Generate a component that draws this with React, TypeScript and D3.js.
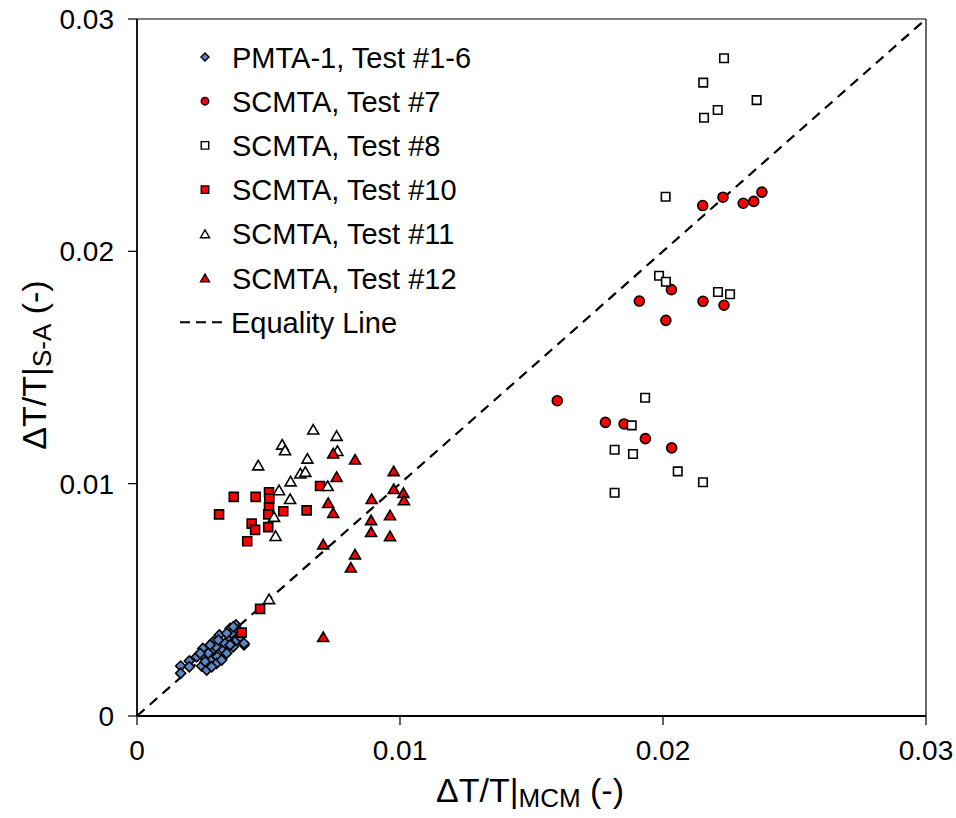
import React from "react";
import * as d3 from "d3";

const xTicks = [0, 0.01, 0.02, 0.03];
const yTicks = [0, 0.01, 0.02, 0.03];
const xTickLabels = ["0", "0.01", "0.02", "0.03"];
const yTickLabels = ["0", "0.01", "0.02", "0.03"];

const pmta: [number, number][] = [
  [0.00166, 0.00215], [0.00166, 0.00184], [0.00199, 0.00237], [0.00199, 0.00212],
  [0.00227, 0.00255], [0.0025, 0.00291], [0.00255, 0.00255], [0.00246, 0.00215],
  [0.00265, 0.00198], [0.00278, 0.00241], [0.00288, 0.00284], [0.0029, 0.0032],
  [0.00305, 0.00255], [0.00313, 0.00349], [0.00318, 0.00306], [0.00328, 0.00284],
  [0.00347, 0.00327], [0.00354, 0.00377], [0.0036, 0.00356], [0.00366, 0.00298],
  [0.00376, 0.00392], [0.00379, 0.00327], [0.00392, 0.00341], [0.00407, 0.00306],
  [0.00271, 0.0027], [0.003, 0.00298], [0.00335, 0.00313], [0.00341, 0.00356],
  [0.00303, 0.00227], [0.00322, 0.00241], [0.00259, 0.00234], [0.00284, 0.00212],
  [0.00341, 0.0027], [0.00354, 0.00306], [0.00385, 0.0037], [0.00366, 0.00384],
  [0.00309, 0.00327], [0.00278, 0.00306], [0.0024, 0.0027], [0.00407, 0.00313],
];

const test7: [number, number][] = [
  [0.02151, 0.02197], [0.02228, 0.02233], [0.02305, 0.02207], [0.02345, 0.02215],
  [0.02376, 0.02255], [0.02032, 0.01835], [0.0191, 0.01786], [0.02011, 0.01703],
  [0.02152, 0.01785], [0.02232, 0.01768], [0.01598, 0.01357], [0.01781, 0.01264],
  [0.01852, 0.01257], [0.01933, 0.01194], [0.02033, 0.01154],
];

const test8: [number, number][] = [
  [0.02232, 0.02831], [0.02153, 0.02726], [0.02356, 0.02651], [0.02208, 0.02608],
  [0.02156, 0.02575], [0.0201, 0.02235], [0.01985, 0.01895], [0.02011, 0.01869],
  [0.02209, 0.01825], [0.02255, 0.01815], [0.01932, 0.0137], [0.01881, 0.01251],
  [0.01816, 0.01146], [0.01886, 0.01128], [0.02056, 0.01053], [0.02152, 0.01006],
  [0.01816, 0.00961],
];

const test10: [number, number][] = [
  [0.00368, 0.00943], [0.00451, 0.00943], [0.00502, 0.00963], [0.00503, 0.00935],
  [0.00502, 0.00898], [0.00499, 0.00868], [0.00312, 0.00868], [0.00556, 0.00881],
  [0.00645, 0.00885], [0.00436, 0.00828], [0.00449, 0.00801], [0.00499, 0.00813],
  [0.00419, 0.00752], [0.00696, 0.0099], [0.00468, 0.00461], [0.00398, 0.00359],
];

const test11: [number, number][] = [
  [0.00552, 0.01169], [0.00563, 0.01145], [0.00461, 0.0108], [0.00648, 0.01109],
  [0.00621, 0.01045], [0.0064, 0.01052], [0.00584, 0.01011], [0.0054, 0.00973],
  [0.00582, 0.00935], [0.00521, 0.00858], [0.00527, 0.00776], [0.0067, 0.01234],
  [0.00759, 0.01207], [0.00762, 0.01142], [0.00725, 0.00991], [0.00502, 0.00504],
];

const test12: [number, number][] = [
  [0.00746, 0.01131], [0.00829, 0.01105], [0.00759, 0.0103], [0.00727, 0.00918],
  [0.00746, 0.00875], [0.00976, 0.01055], [0.00976, 0.00978], [0.01013, 0.00961],
  [0.01015, 0.0093], [0.00892, 0.00935], [0.00962, 0.00865], [0.0089, 0.00844],
  [0.0089, 0.00793], [0.00962, 0.00775], [0.00708, 0.0074], [0.00829, 0.00697],
  [0.00813, 0.0064], [0.00708, 0.00341],
];

const seriesNames = [
  "PMTA-1, Test #1-6",
  "SCMTA, Test #7",
  "SCMTA, Test #8",
  "SCMTA, Test #10",
  "SCMTA, Test #11",
  "SCMTA, Test #12",
];

type Shape = "diamond" | "circle" | "square" | "triangle";

const seriesDefs: { data: [number, number][]; shape: Shape; fill: string; size: number }[] = [
  { data: pmta, shape: "diamond", fill: "#5b86c2", size: 10 },
  { data: test7, shape: "circle", fill: "#ff0000", size: 10 },
  { data: test8, shape: "square", fill: "#ffffff", size: 8.5 },
  { data: test10, shape: "square", fill: "#ff0000", size: 9 },
  { data: test11, shape: "triangle", fill: "#ffffff", size: 11 },
  { data: test12, shape: "triangle", fill: "#ff0000", size: 11 },
];

function markerPath(shape: Shape, s: number): string {
  const h = s / 2;
  if (shape === "circle") {
    const p = d3.path();
    p.arc(0, 0, h, 0, Math.PI * 2);
    p.closePath();
    return p.toString();
  }
  if (shape === "square") return `M${-h},${-h}H${h}V${h}H${-h}Z`;
  if (shape === "diamond") return `M0,${-h}L${h},0L0,${h}L${-h},0Z`;
  const th = s * 0.866;
  return `M0,${-th / 2}L${h},${th / 2}L${-h},${th / 2}Z`;
}

const W = 956;
const H = 818;
const left = 137;
const right = 926;
const top = 19;
const bottom = 716;
const FONT = "'Liberation Sans', Arial, sans-serif";

export default function App() {
  const x = d3.scaleLinear().domain([0, 0.03]).range([left, right]);
  const y = d3.scaleLinear().domain([0, 0.03]).range([bottom, top]);
  const eq = d3.line<number>().x((d) => x(d)).y((d) => y(d));

  const legendX = 205;
  const legendTextX = 232;
  const legendY0 = 57;
  const legendDy = 44.2;

  return (
    <svg
      width={W}
      height={H}
      style={{ position: "absolute", left: 0, top: 0, display: "block", background: "#fff" }}
      fontFamily={FONT}
    >
      <rect x={0} y={0} width={W} height={H} fill="#fff" />
      <line x1={left} y1={top} x2={right} y2={top} stroke="#555" strokeWidth={1.5} />
      <line x1={right} y1={top} x2={right} y2={bottom} stroke="#333" strokeWidth={1.5} />
      <line x1={left} y1={top} x2={left} y2={bottom} stroke="#000" strokeWidth={1.8} />
      <line x1={left} y1={bottom} x2={right} y2={bottom} stroke="#000" strokeWidth={1.8} />

      {xTicks.map((t, i) => (
        <g key={"xt" + i}>
          <line x1={x(t)} x2={x(t)} y1={bottom} y2={bottom + 9} stroke="#000" strokeWidth={1.2} />
          <text x={x(t)} y={760} textAnchor="middle" fontSize={28} fill="#000">
            {xTickLabels[i]}
          </text>
        </g>
      ))}
      {yTicks.map((t, i) => (
        <g key={"yt" + i}>
          <line x1={left - 9} x2={left} y1={y(t)} y2={y(t)} stroke="#000" strokeWidth={1.2} />
          <text x={114} y={y(t) + 10} textAnchor="end" fontSize={28} fill="#000">
            {yTickLabels[i]}
          </text>
        </g>
      ))}

      <path d={eq([0, 0.03]) || ""} fill="none" stroke="#000" strokeWidth={2.2} strokeDasharray="10,7" />

      {seriesDefs.map((s, si) => (
        <g key={"s" + si}>
          {s.data.map((d, i) => (
            <path
              key={i}
              d={markerPath(s.shape, s.size)}
              transform={`translate(${x(d[0])},${y(d[1])})`}
              fill={s.fill}
              stroke="#000"
              strokeWidth={1.6}
            />
          ))}
        </g>
      ))}

      {seriesDefs.map((s, i) => (
        <g key={"lg" + i}>
          <path
            d={markerPath(s.shape, s.shape === "triangle" ? 9 : s.shape === "diamond" ? 8 : 7.5)}
            transform={`translate(${legendX},${legendY0 + i * legendDy})`}
            fill={s.fill}
            stroke="#000"
            strokeWidth={1.4}
          />
          <text x={legendTextX} y={legendY0 + i * legendDy + 10.5} fontSize={29} fill="#000">
            {seriesNames[i]}
          </text>
        </g>
      ))}
      <line
        x1={180}
        x2={228}
        y1={legendY0 + 6 * legendDy}
        y2={legendY0 + 6 * legendDy}
        stroke="#000"
        strokeWidth={2}
        strokeDasharray="10,6"
      />
      <text x={legendTextX - 1} y={legendY0 + 6 * legendDy + 10.5} fontSize={29} fill="#000">
        Equality Line
      </text>

      <text x={530} y={802} textAnchor="middle" fontSize={34} fill="#000">
        ΔT/T|<tspan fontSize={26} dy={5}>MCM</tspan>
        <tspan dy={-5}> (-)</tspan>
      </text>
      <text transform="translate(46,365) rotate(-90)" textAnchor="middle" fontSize={34} fill="#000">
        ΔT/T|<tspan fontSize={26} dy={5}>S-A</tspan>
        <tspan dy={-5}> (-)</tspan>
      </text>
    </svg>
  );
}
